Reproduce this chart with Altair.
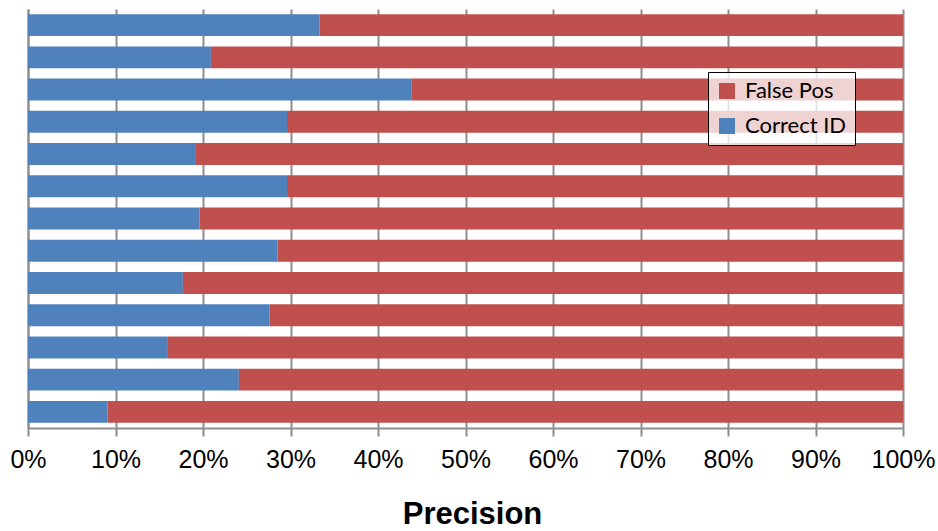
import altair as alt
import pandas as pd

# Thirteen runs, top to bottom: share of correct identifications vs false positives (%)
runs = [f"R{i:02d}" for i in range(1, 14)]
correct_id = [33.3, 20.9, 43.8, 29.6, 19.1, 29.6, 19.6, 28.5, 17.7, 27.6, 15.9, 24.1, 9.1]
false_pos = [66.7, 79.1, 56.2, 70.4, 80.9, 70.4, 80.4, 71.5, 82.3, 72.4, 84.1, 75.9, 90.9]

series_names = ["False Pos", "Correct ID"]
series_colors = ["#C0504D", "#4F81BD"]
x_ticks = [i / 10 for i in range(11)]

rows = []
for r, c, f in zip(runs, correct_id, false_pos):
    rows.append({"run": r, "series": "Correct ID", "value": c, "stack_order": 0})
    rows.append({"run": r, "series": "False Pos", "value": f, "stack_order": 1})
df = pd.DataFrame(rows)

GRID = "#8e8e8e"

chart = (
    alt.Chart(df)
    .mark_bar()
    .encode(
        x=alt.X(
            "value:Q",
            stack="normalize",
            title="Precision",
            scale=alt.Scale(domain=[0, 1], nice=False),
            axis=alt.Axis(
                values=x_ticks,
                format="%",
                labelFont="Liberation Sans",
                labelFontSize=25,
                labelColor="#000000",
                labelPadding=11,
                labelFlush=False,
                tickSize=8,
                tickColor=GRID,
                tickWidth=2,
                domainColor=GRID,
                domainWidth=2,
                grid=True,
                gridColor=GRID,
                gridWidth=2,
                titleFont="Liberation Sans",
                titleFontSize=31,
                titleFontWeight="bold",
                titleColor="#000000",
                titlePadding=27,
                titleX=444,
            ),
        ),
        y=alt.Y(
            "run:N",
            sort=runs,
            title=None,
            scale=alt.Scale(paddingInner=0.32, paddingOuter=0.16),
            axis=alt.Axis(
                labels=False,
                ticks=False,
                grid=False,
                domainColor=GRID,
                domainWidth=2,
            ),
        ),
        color=alt.Color(
            "series:N",
            scale=alt.Scale(domain=series_names, range=series_colors),
            legend=alt.Legend(
                title=None,
                orient="none",
                legendX=680,
                legendY=63,
                symbolType="square",
                symbolSize=256,
                symbolStrokeWidth=0,
                symbolOpacity=1,
                labelFont="Lato",
                labelFontSize=22,
                labelColor="#000000",
                labelOffset=7,
                rowPadding=13,
                padding=8,
                fillColor="rgba(255,255,255,0.75)",
                strokeColor="#000000",
                cornerRadius=0,
            ),
        ),
        order=alt.Order("stack_order:Q"),
    )
    .properties(
        width=875,
        height=419,
        padding={"left": 28, "top": 9, "right": 35, "bottom": 103},
        autosize=alt.AutoSizeParams(type="none"),
        background="#ffffff",
    )
    .configure_view(stroke=None)
)

chart.save("out.html", embed_options={"renderer": "svg", "actions": False})
